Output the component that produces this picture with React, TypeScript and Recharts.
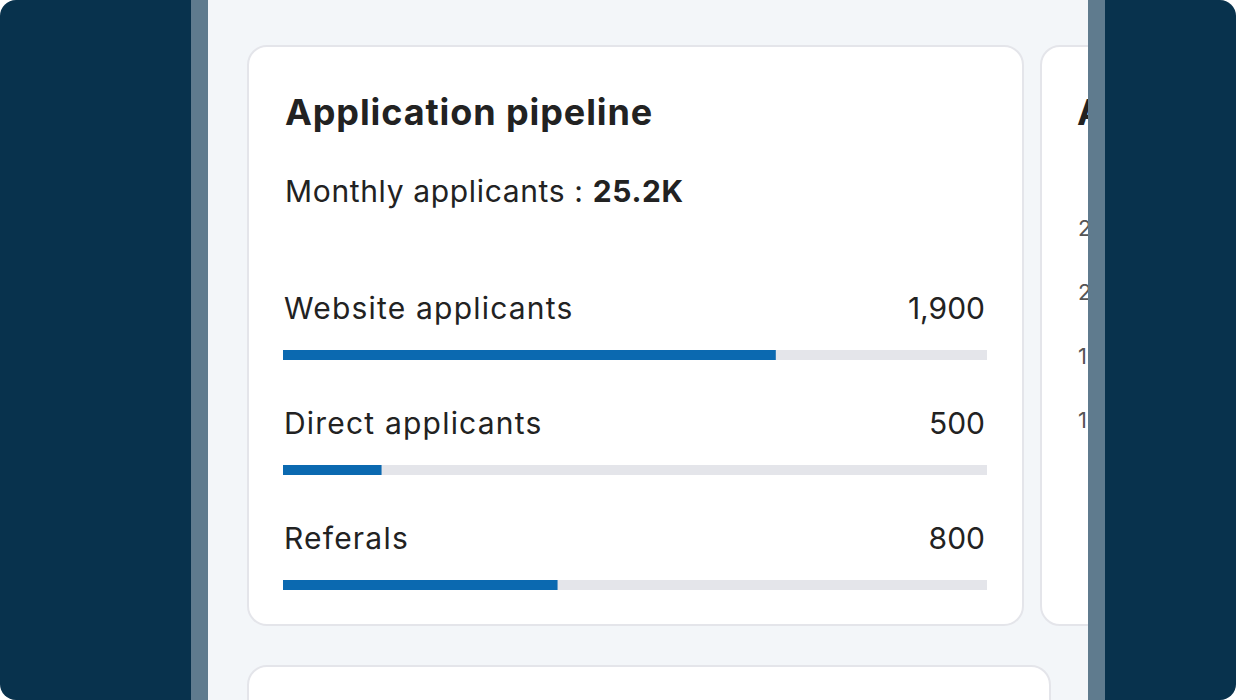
import React from 'react';
import { BarChart, Bar, XAxis, YAxis, LabelList } from 'recharts';

const sources = ['Website applicants', 'Direct applicants', 'Referals'];
const applicants = [1900, 500, 800];
const progress = [70, 14, 39];
const sideTicks = ['2', '2', '1', '1'];

const data = sources.map((name, i) => ({ name, value: applicants[i], pct: progress[i] }));

const FONT = 'Inter, Roboto, "Noto Sans", sans-serif';

const RowLabel = (props: any) => {
  const { x, y, index } = props;
  const trackRight = 704;
  return (
    <g>
      <text x={x + 1} y={y - 31} fontSize={30} fill="#222" fontFamily={FONT} style={{ letterSpacing: 1.2 }}>
        {sources[index]}
      </text>
      <text x={trackRight - 2} y={y - 31} fontSize={30} fill="#222" fontFamily={FONT} textAnchor="end">
        {applicants[index].toLocaleString('en-US')}
      </text>
    </g>
  );
};

const card: React.CSSProperties = {
  position: 'absolute',
  boxSizing: 'border-box',
  background: '#fff',
  border: '2px solid #e4e5ea',
  borderRadius: 20,
};

export default function App() {
  return (
    <div style={{ position: 'fixed', left: 0, top: 0, width: 1236, height: 700, background: '#fff', fontFamily: FONT }}>
      <div style={{ position: 'absolute', inset: 0, background: '#08324d', borderRadius: 16, overflow: 'hidden' }}>
        <div style={{ position: 'absolute', left: 191, top: 0, width: 914, height: 700, background: '#5f7b8e' }} />
        <div style={{ position: 'absolute', left: 208, top: 0, width: 880, height: 700, background: '#f3f6f9', overflow: 'hidden' }}>
          <div style={{ ...card, left: 39, top: 45, width: 777, height: 581 }}>
            <div style={{ position: 'absolute', left: 36, top: 47, fontSize: 36, lineHeight: '36px', fontWeight: 700, letterSpacing: 0.9, color: '#222', whiteSpace: 'nowrap' }}>
              Application pipeline
            </div>
            <div style={{ position: 'absolute', left: 36, top: 129, fontSize: 30, lineHeight: '30px', letterSpacing: 0.65, color: '#222', whiteSpace: 'nowrap' }}>
              Monthly applicants : <b>25.2K</b>
            </div>
            <div style={{ position: 'absolute', left: 34, top: 210 }}>
              <BarChart width={704} height={385} data={data} layout="vertical" margin={{ top: 40, right: 0, bottom: 0, left: 0 }}>
                <XAxis type="number" domain={[0, 100]} hide />
                <YAxis type="category" dataKey="name" hide />
                <Bar dataKey="pct" fill="#0b69b0" barSize={10} background={{ fill: '#e4e5ea' }} isAnimationActive={false}>
                  <LabelList dataKey="pct" content={RowLabel} />
                </Bar>
              </BarChart>
            </div>
          </div>
          <div style={{ ...card, left: 832, top: 45, width: 400, height: 581 }}>
            <div style={{ position: 'absolute', left: 35, top: 47, fontSize: 36, lineHeight: '36px', fontWeight: 700, color: '#222', whiteSpace: 'nowrap' }}>
              A
            </div>
            {sideTicks.map((t, i) => (
              <div key={i} style={{ position: 'absolute', left: 36, top: 170 + i * 64, fontSize: 22, lineHeight: '22px', color: '#555', whiteSpace: 'nowrap' }}>
                {t}
              </div>
            ))}
          </div>
          <div style={{ ...card, left: 39, top: 665, width: 804, height: 200 }} />
        </div>
      </div>
    </div>
  );
}
